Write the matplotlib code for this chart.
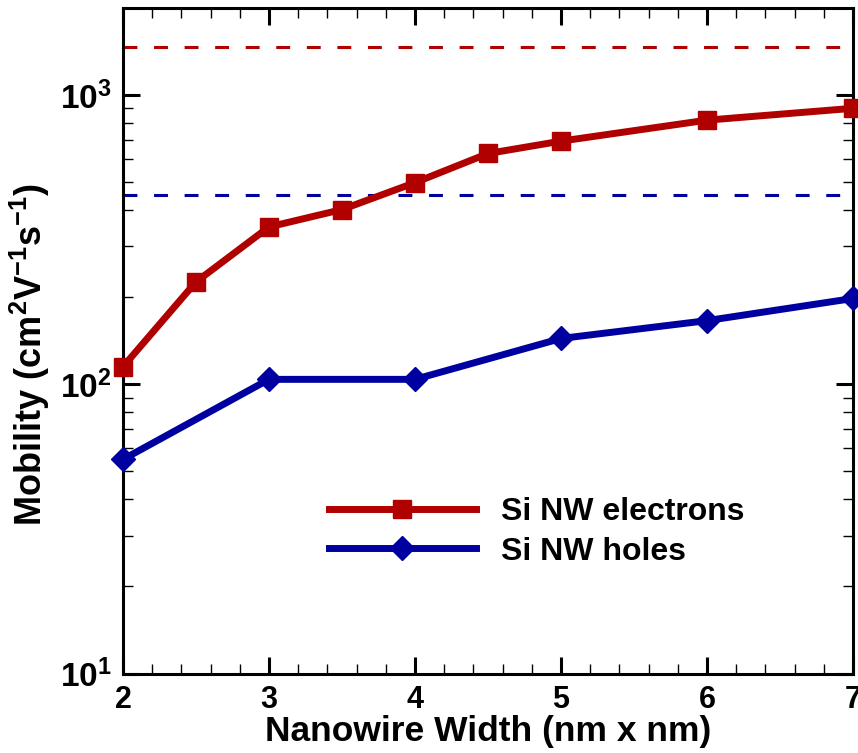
import math
import matplotlib
matplotlib.use("Agg")
import matplotlib.pyplot as plt
from matplotlib.ticker import LogLocator, MultipleLocator, FuncFormatter

plt.rcParams['font.family'] = ['Liberation Sans', 'DejaVu Sans']
plt.rcParams['font.weight'] = 'bold'
plt.rcParams['mathtext.fontset'] = 'custom'
plt.rcParams['mathtext.rm'] = 'Liberation Sans:bold'
plt.rcParams['mathtext.bf'] = 'Liberation Sans:bold'
plt.rcParams['mathtext.it'] = 'Liberation Sans:bold'
plt.rcParams['mathtext.default'] = 'bf'
plt.rcParams['lines.scale_dashes'] = False

# Data
width_e = [2, 2.5, 3, 3.5, 4, 4.5, 5, 6, 7]
mob_e = [115, 226, 350, 402, 498, 628, 693, 819, 900]
width_h = [2, 3, 4, 5, 6, 7]
mob_h = [55, 104, 104, 144, 166, 198]
bulk_e = 1465
bulk_h = 450
labels = ['Si NW electrons', 'Si NW holes']

red = '#B00000'
blue = '#0000A0'

fig = plt.figure(figsize=(8.58, 7.53), dpi=100)
ax = fig.add_axes([123/858, 79.5/753, 730/858, 665.5/753])

ax.axhline(bulk_e, color=red, lw=2.2, dashes=(10, 12))
ax.axhline(bulk_h, color=blue, lw=2.2, dashes=(10, 12))
ax.plot(width_e, mob_e, color=red, lw=5, marker='s', ms=12.5, label=labels[0], clip_on=False, zorder=5)
ax.plot(width_h, mob_h, color=blue, lw=5, marker='D', ms=12.5, label=labels[1], clip_on=False, zorder=5)

ax.set_yscale('log')
ax.set_xlim(2, 7)
ax.set_ylim(10, 2000)
ax.xaxis.set_major_locator(MultipleLocator(1))
ax.xaxis.set_minor_locator(MultipleLocator(0.2))
ax.yaxis.set_major_locator(LogLocator(base=10, numticks=10))
ax.yaxis.set_minor_locator(LogLocator(base=10, subs=range(2, 10), numticks=20))

def yfmt(v, pos):
    e = int(round(math.log10(v)))
    return r'$\mathbf{10^{%d}}$' % e
ax.yaxis.set_major_formatter(FuncFormatter(yfmt))
ax.yaxis.set_minor_formatter(FuncFormatter(lambda v, p: ''))

ax.tick_params(which='both', direction='in', top=True, right=True)
ax.tick_params(which='major', length=12, width=2.2, labelsize=22, pad=8)
ax.tick_params(which='minor', length=7, width=1)
ax.tick_params(axis='y', which='major', pad=8, labelsize=24)
for s in ax.spines.values():
    s.set_linewidth(2.2)

ax.set_xlabel('Nanowire Width (nm x nm)', fontsize=25.5, fontweight='bold', labelpad=0)
ax.set_ylabel(r'Mobility (cm$^{2}$V$^{-1}$s$^{-1}$)', fontsize=26, fontweight='bold')
ax.yaxis.set_label_coords(-0.097, 0.48)

leg = ax.legend(loc='center left', bbox_to_anchor=(0.282, 0.213), frameon=False,
                fontsize=23, handlelength=4.6, handletextpad=0.8, labelspacing=0.3,
                borderpad=0, borderaxespad=0, markerscale=1.0)

fig.savefig('out.png', dpi=100)
